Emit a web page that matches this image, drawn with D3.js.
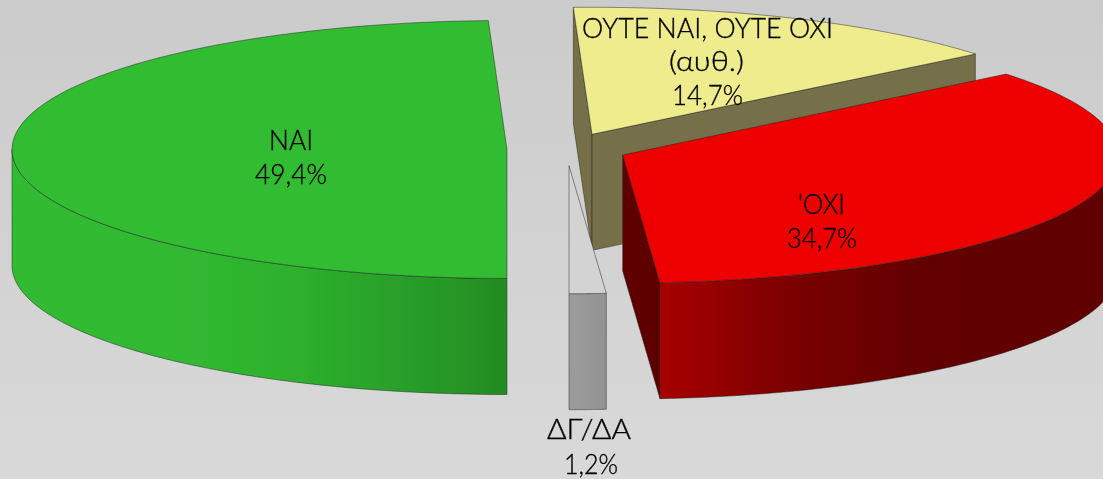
<!DOCTYPE html>
<html><head><meta charset="utf-8">
<script src="https://cdn.jsdelivr.net/npm/d3@7/dist/d3.min.js"></script>
<style>html,body{margin:0;padding:0;overflow:hidden;background:#d2d2d2}svg{display:block}
text{font-family:Lato,Inter,"Open Sans",sans-serif;font-weight:300;font-size:27px;fill:#000;stroke:#000;stroke-width:0.35;text-anchor:middle}</style>
</head><body><svg id="c" width="1103" height="479"></svg>
<script>
const categories = ["ΝΑΙ", "ΟΥΤΕ ΝΑΙ, ΟΥΤΕ ΟΧΙ (αυθ.)", "ΌΧΙ", "ΔΓ/ΔΑ"];
const values = [49.4, 14.7, 34.7, 1.2];
const valueLabels = ["49,4%", "14,7%", "34,7%", "1,2%"];
const labelLines = [["ΝΑΙ"], ["ΟΥΤΕ ΝΑΙ, ΟΥΤΕ ΟΧΙ", "(αυθ.)"], ["'ΟΧΙ"], ["ΔΓ/ΔΑ"]];

const W = 1103, H = 479, RX = 495, DEPTH = 116;
const layout = [
  {cx:507,   cy:149.5, ry:129, topFill:"#30bc30", face:"#6a6a6a", wall:["#30bb30","#30b830","#2db02d","#299f29","#238c23"], wallX:[12,200,300,400,507],
   lx:[291,291], ly:[150,184], lw:[44,72]},
  {cx:592,   cy:134.3, ry:127, topFill:"#efec8e", face:"#757048", wall:["#757048","#757048"], wallX:[0,1],
   lx:[707.5,706.5,707.5], ly:[38,71,105], lw:[251,75,71]},
  {cx:622.7, cy:155,   ry:128, topFill:"#ee0000", face:"#5e0000", wall:["#a80000","#780000","#620000","#600000"], wallX:[660,800,920,1103],
   lx:[821.5,822], ly:[214,248], lw:[47,70]},
  {cx:569,   cy:165.7, ry:128, topFill:"#d3d3d3", face:"#8a8a8a", wall:["#9c9c9c","#929292"], wallX:[569,607],
   lx:[589,591], ly:[439,474], lw:[84,54]}
];

const svg = d3.select("#c");
const defs = svg.append("defs");
const bg = defs.append("linearGradient").attr("id","bg").attr("x1",0).attr("y1",0).attr("x2",0).attr("y2",1);
bg.append("stop").attr("offset",0).attr("stop-color","#cbcbcb");
bg.append("stop").attr("offset",1).attr("stop-color","#d9d9d9");
svg.append("rect").attr("width",W).attr("height",H).attr("fill","url(#bg)");
defs.append("filter").attr("id","soft").append("feGaussianBlur").attr("stdDeviation",0.45);

// d3.pie: angle 0 = north, clockwise; first slice begins at south
const arcs = d3.pie().sort(null).value(d=>d).startAngle(Math.PI).endAngle(3*Math.PI)(values);

const root = svg.append("g").attr("filter","url(#soft)");
const line = d3.line();
const pt = (l,a,dz=0) => [l.cx + RX*Math.sin(a), l.cy - l.ry*Math.cos(a) + dz];
const rim = (l,a0,a1,dz=0) => d3.range(0,81).map(i => pt(l, a0+(a1-a0)*i/80, dz));
const edge = {stroke:"#222","stroke-opacity":0.6,"stroke-width":0.8,"stroke-linejoin":"round"};
const style = (s,o) => { Object.entries(o).forEach(([k,v])=>s.attr(k,v)); return s; };

layout.forEach((l,i)=>{
  const x0=l.wallX[0], x1=l.wallX[l.wallX.length-1];
  const g = defs.append("linearGradient").attr("id","w"+i).attr("gradientUnits","userSpaceOnUse")
    .attr("x1",x0).attr("x2",x1).attr("y1",0).attr("y2",0);
  l.wall.forEach((c,k)=>g.append("stop").attr("offset",(l.wallX[k]-x0)/(x1-x0)).attr("stop-color",c));
});

function drawFace(g,l,a){
  const apex=[l.cx,l.cy], tip=pt(l,a);
  style(g.append("path").attr("d",line([apex,tip,[tip[0],tip[1]+DEPTH],[apex[0],apex[1]+DEPTH]])+"Z").attr("fill",l.face),edge);
}
function drawWall(g,l,i,a0,a1){
  // visible part of the rim: the front half of the ellipse
  const shift=a0>=2*Math.PI?2*Math.PI:0;
  const from=Math.max(a0,Math.PI/2+shift), to=Math.min(a1,3*Math.PI/2+shift);
  if(to<=from) return;
  const pts=rim(l,from,to).concat(rim(l,to,from,DEPTH));
  style(g.append("path").attr("d",line(pts)+"Z").attr("fill",`url(#w${i})`),edge);
}
function drawTop(g,l,a0,a1){
  const pts=[[l.cx,l.cy]].concat(rim(l,a0,a1));
  style(g.append("path").attr("d",line(pts)+"Z").attr("fill",l.topFill),edge);
}

[1,0,3,2].forEach(i=>{
  const d=arcs[i], l=layout[i], g=root.append("g").attr("class","slice").datum(categories[i]);
  if(i===1){ drawFace(g,l,d.startAngle); drawFace(g,l,d.endAngle); }
  if(i===2){ drawFace(g,l,d.endAngle); }
  drawWall(g,l,i,d.startAngle,d.endAngle);
  drawTop(g,l,d.startAngle,d.endAngle);
});

const txt = svg.append("g").attr("filter","url(#soft)");
layout.forEach((l,i)=>{
  const rows = labelLines[i].concat([valueLabels[i]]);
  rows.forEach((t,k)=>txt.append("text").attr("x",l.lx[k]).attr("y",l.ly[k])
    .attr("textLength",l.lw[k]).attr("lengthAdjust","spacingAndGlyphs").text(t));
});
</script></body></html>
